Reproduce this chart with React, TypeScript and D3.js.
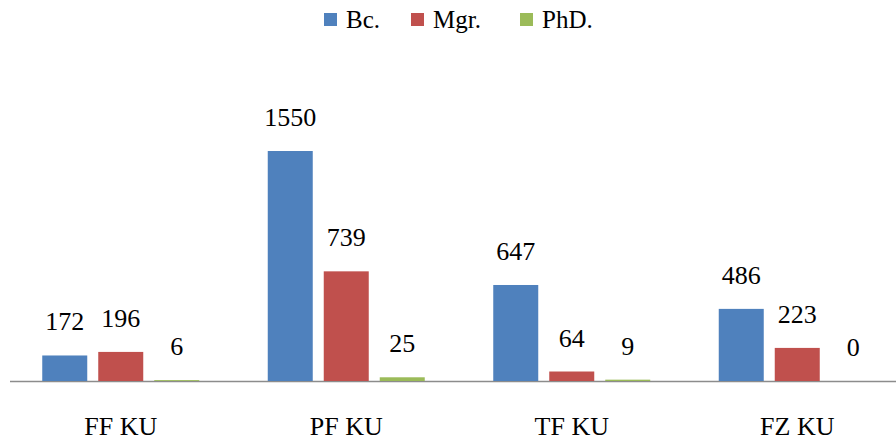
import React, { useEffect, useRef } from "react";
import * as d3 from "d3";

const categories = ["FF KU", "PF KU", "TF KU", "FZ KU"];
const series = ["Bc.", "Mgr.", "PhD."];
const bc = [172, 1550, 647, 486];
const mgr = [196, 739, 64, 223];
const phd = [6, 25, 9, 0];
const colors = ["#4F81BD", "#C0504D", "#9BBB59"];

function App() {
  const ref = useRef<SVGSVGElement>(null);

  useEffect(() => {
    const width = 896;
    const font = "Liberation Serif, DejaVu Serif, Noto Serif, serif";

    const svg = d3.select(ref.current);
    svg.selectAll("*").remove();

    const values = [bc, mgr, phd];
    const rows = categories.map((c, i) => ({
      cat: c,
      vals: series.map((s, j) => ({ key: s, value: values[j][i], idx: j })),
    }));

    const x0 = d3.scaleBand().domain(categories).range([8, 910]).padding(0);
    const x1 = d3
      .scaleBand()
      .domain(series)
      .range([0, 157])
      .paddingInner(11 / 56)
      .paddingOuter(0);
    const offset = (x0.bandwidth() - 157) / 2;

    const y = d3.scaleLinear().domain([0, 1550]).range([381, 151]);

    // axis baseline
    svg
      .append("line")
      .attr("x1", 10)
      .attr("x2", width)
      .attr("y1", y(0) + 0.5)
      .attr("y2", y(0) + 0.5)
      .attr("stroke", "#8c8c8c")
      .attr("stroke-width", 1.5);

    const groups = svg
      .selectAll("g.group")
      .data(rows)
      .enter()
      .append("g")
      .attr("class", "group")
      .attr("transform", (d) => `translate(${x0(d.cat)! + offset},0)`);

    groups
      .selectAll("rect")
      .data((d) => d.vals)
      .enter()
      .append("rect")
      .attr("x", (d) => x1(d.key)!)
      .attr("width", x1.bandwidth())
      .attr("y", (d) => y(d.value))
      .attr("height", (d) => y(0) - y(d.value))
      .attr("fill", (d) => colors[d.idx]);

    groups
      .selectAll("text.val")
      .data((d) => d.vals)
      .enter()
      .append("text")
      .attr("class", "val")
      .attr("x", (d) => x1(d.key)! + x1.bandwidth() / 2)
      .attr("y", (d) => y(d.value) - 25)
      .attr("text-anchor", "middle")
      .attr("font-family", font)
      .attr("font-size", 26)
      .attr("fill", "#000")
      .text((d) => d.value);

    // category labels
    svg
      .selectAll("text.cat")
      .data(categories)
      .enter()
      .append("text")
      .attr("class", "cat")
      .attr("x", (d) => x0(d)! + x0.bandwidth() / 2)
      .attr("y", 435)
      .attr("text-anchor", "middle")
      .attr("font-family", font)
      .attr("font-size", 26)
      .attr("fill", "#000")
      .text((d) => d);

    // legend
    const legendX = [324, 411, 520];
    const legend = svg
      .selectAll("g.legend")
      .data(series)
      .enter()
      .append("g")
      .attr("class", "legend")
      .attr("transform", (d, i) => `translate(${legendX[i]},0)`);
    legend
      .append("rect")
      .attr("x", 0)
      .attr("y", 13)
      .attr("width", 13)
      .attr("height", 13)
      .attr("fill", (d, i) => colors[i]);
    legend
      .append("text")
      .attr("x", 22)
      .attr("y", 28)
      .attr("font-family", font)
      .attr("font-size", 25)
      .attr("fill", "#000")
      .text((d) => d);
  }, []);

  return (
    <div style={{ position: "absolute", left: 0, top: 0 }}>
      <svg ref={ref} width={896} height={440} style={{ display: "block" }} />
    </div>
  );
}

export default App;
